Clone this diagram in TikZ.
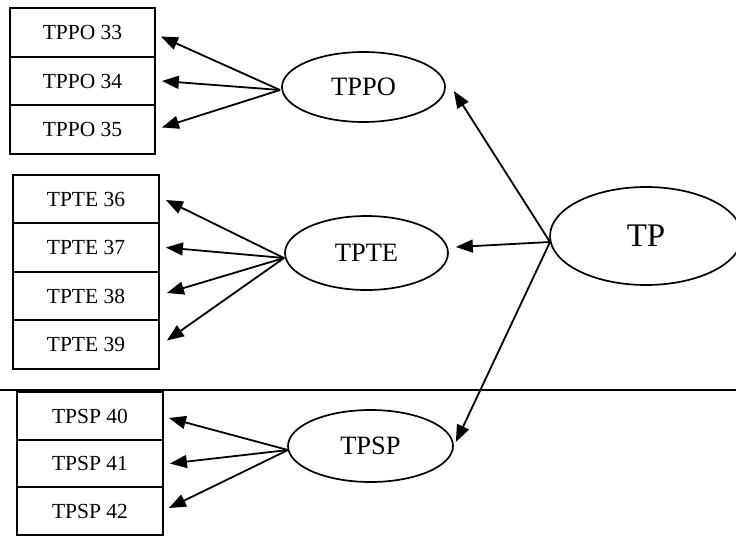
\documentclass[tikz,border=0pt]{standalone}
\usepackage{fontspec}
\setmainfont{Liberation Serif}
\usetikzlibrary{shapes.geometric,arrows.meta}
\begin{document}
\begin{tikzpicture}[x=1pt,y=-1pt,
  itembox/.style={draw,line width=1.8pt,minimum width=146pt,minimum height=48.5pt,inner sep=0pt,font=\fontsize{21.5}{24}\selectfont},
  latent/.style={draw,ellipse,line width=1.7pt,inner sep=0pt},
  arr/.style={line width=1.8pt,-{Triangle[length=17pt,width=13pt]}}]
\useasboundingbox (0,0) rectangle (736,541);
% horizontal rule
\draw[line width=1.2pt] (0,390) coordinate (hl) -- (736,390) coordinate (hr);
% group 1
\node[itembox,minimum width=145pt] (b33) at (82.5,32.5) {TPPO 33};
\node[itembox,minimum width=145pt] (b34) at (82.5,81) {TPPO 34};
\node[itembox,minimum width=145pt] (b35) at (82.5,129.5) {TPPO 35};
% group 2
\node[itembox] (b36) at (86,199) {TPTE 36};
\node[itembox] (b37) at (86,247.5) {TPTE 37};
\node[itembox] (b38) at (86,296) {TPTE 38};
\node[itembox] (b39) at (86,344.5) {TPTE 39};
% group 3
\node[itembox,minimum height=47.7pt] (b40) at (90,416) {TPSP 40};
\node[itembox,minimum height=47.7pt] (b41) at (90,463.5) {TPSP 41};
\node[itembox,minimum height=47.7pt] (b42) at (90,511) {TPSP 42};
% latent ellipses
\node[latent,minimum width=163pt,minimum height=70pt,font=\fontsize{26.5}{30}\selectfont] (tppo) at (363.5,87) {TPPO};
\node[latent,minimum width=163pt,minimum height=74pt,font=\fontsize{26.5}{30}\selectfont] (tpte) at (366.5,253) {TPTE};
\node[latent,minimum width=165pt,minimum height=72pt,font=\fontsize{26.5}{30}\selectfont] (tpsp) at (370.5,446) {TPSP};
\node[latent,minimum width=192pt,minimum height=98pt,font=\fontsize{33}{36}\selectfont] (tp) at (646,236) {TP};
% sources
\coordinate (s1) at (280,90);
\coordinate (s2) at (284,258);
\coordinate (s3) at (288,450);
\coordinate (s0) at (550,242);
% arrows from TPPO
\draw[arr] (s1) -- ([xshift=5pt,yshift=-4pt]b33.east);
\draw[arr] (s1) -- ([xshift=6pt]b34.east);
\draw[arr] (s1) -- ([xshift=6pt,yshift=2pt]b35.east);
% arrows from TPTE
\draw[arr] (s2) -- ([xshift=6pt,yshift=-1pt]b36.east);
\draw[arr] (s2) -- ([xshift=6pt]b37.east);
\draw[arr] (s2) -- ([xshift=7pt,yshift=3pt]b38.east);
\draw[arr] (s2) -- ([xshift=7pt,yshift=4pt]b39.east);
% arrows from TPSP
\draw[arr] (s3) -- ([xshift=5pt,yshift=-2pt]b40.east);
\draw[arr] (s3) -- ([xshift=6pt,yshift=0pt]b41.east);
\draw[arr] (s3) -- ([xshift=5pt,yshift=3pt]b42.east);
% arrows from TP
\draw[arr] (s0) -- ([xshift=8pt,yshift=-4pt]tppo.east);
\draw[arr] (s0) -- ([xshift=7pt,yshift=6pt]tpte.east);
\draw[arr] (s0) -- ([xshift=2pt,yshift=4pt]tpsp.east);
\end{tikzpicture}
\end{document}
